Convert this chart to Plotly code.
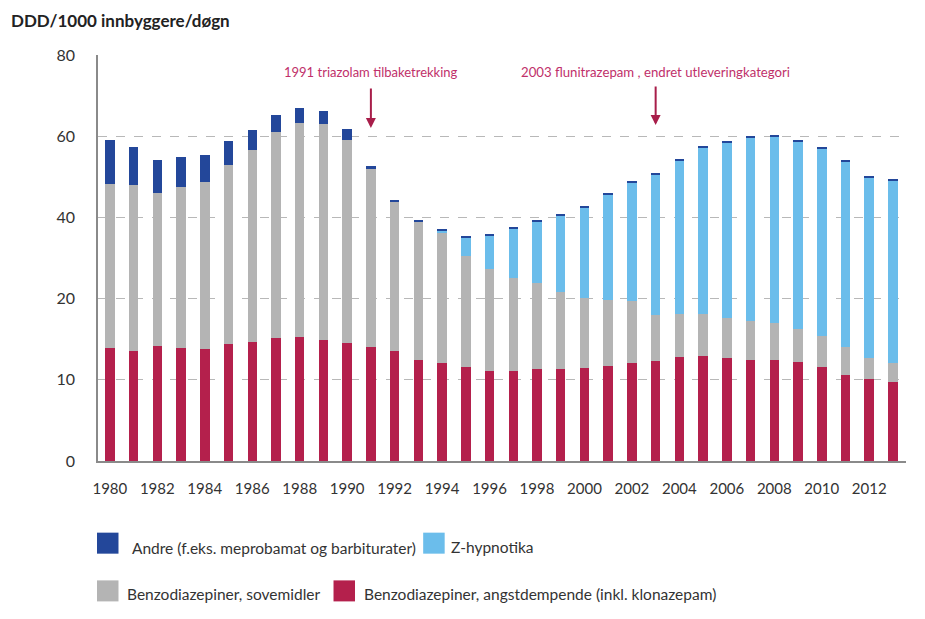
import plotly.graph_objects as go

years = list(range(1980, 2014))

# Values in axis units (axis labelled 0,10,20,40,60,80 at equal spacing)
angstdempende = [22.2, 21.7, 22.6, 22.2, 22.0, 23.0, 23.5, 24.3, 24.4, 23.8, 23.3, 22.5, 21.6, 20.0,
                 19.3, 18.5, 17.8, 17.7, 18.1, 18.2, 18.3, 18.7, 19.3, 19.8, 20.5, 20.6, 20.3, 20.0,
                 20.0, 19.6, 18.5, 17.0, 16.2, 15.5]
sovemidler = [32.4, 32.6, 30.3, 31.8, 33.0, 35.4, 37.8, 40.5, 42.3, 42.7, 39.9, 35.1, 29.5, 27.2,
              25.7, 21.8, 20.0, 18.4, 16.9, 15.1, 13.9, 13.1, 12.2, 8.9, 8.5, 8.4, 7.8, 7.6,
              7.1, 6.4, 6.1, 5.5, 4.1, 3.9]
z_hypnotika = [0, 0, 0, 0, 0, 0, 0, 0, 0, 0, 0, 0, 0, 0,
               0.45, 3.8, 6.6, 9.7, 12.2, 15.0, 17.7, 20.7, 23.3, 27.8, 30.3, 32.7, 34.6, 36.1,
               36.8, 37.0, 36.9, 36.6, 35.5, 35.8]
andre = [8.7, 7.5, 6.5, 6.0, 5.2, 4.6, 4.0, 3.3, 2.8, 2.5, 2.2, 0.5, 0.3, 0.3,
         0.2, 0.2, 0.2, 0.2, 0.2, 0.2, 0.2, 0.2, 0.2, 0.2, 0.2, 0.2, 0.2, 0.2,
         0.2, 0.2, 0.2, 0.2, 0.2, 0.2]

y_tickvals = [0, 16, 32, 48, 64, 80]
y_ticktext = ["0", "10", "20", "40", "60", "80"]
x_tickvals = list(range(1980, 2014, 2))

names = ["Benzodiazepiner, angstdempende (inkl. klonazepam)", "Benzodiazepiner, sovemidler",
         "Z-hypnotika", "Andre (f.eks. meprobamat og barbiturater)"]
colors = ["#B4204C", "#B4B4B4", "#6BBDEB", "#23479A"]
series = [angstdempende, sovemidler, z_hypnotika, andre]

FONT = "Lato"
fig = go.Figure()
for name, col, vals in zip(names, colors, series):
    fig.add_trace(go.Bar(x=years, y=vals, name=name, marker=dict(color=col, line=dict(width=0)),
                         width=0.4, showlegend=False))

OFF = 8  # page body margin
W, H = 925 - OFF, 619 - OFF
L, R, T, B = 97.7 - OFF, 906.0 - OFF, 55.0 - OFF, 460.7 - OFF


def px(x):
    return (x - OFF - L) / (R - L)


def py(y):
    return (B - (y - OFF)) / (B - T)


shapes = []
annotations = []
legend_items = [
    (names[3], colors[3], 96.7, 532.3, 130, 547.5),
    (names[2], colors[2], 423.0, 532.3, 448.5, 546.5),
    (names[1], colors[1], 96.7, 580.0, 125, 593.5),
    (names[0], colors[0], 333.3, 580.0, 362, 593.5),
]
for text, col, sx, sy, tx, ty in legend_items:
    shapes.append(dict(type="rect", xref="paper", yref="paper", x0=px(sx), x1=px(sx + 21.5),
                       y0=py(sy + 21), y1=py(sy), fillcolor=col, line=dict(width=0)))
    annotations.append(dict(xref="paper", yref="paper", x=px(tx), y=py(ty), xanchor="left",
                            yanchor="middle", text=text, showarrow=False,
                            font=dict(family=FONT, size=15.5, color="#333333")))

# Event annotations
ann_color = "#C0306A"
arrow_color = "#A81E4A"
annotations += [
    dict(x=1991, y=76.6, xref="x", yref="y", text="1991 triazolam tilbaketrekking",
         showarrow=False, font=dict(family=FONT, size=13, color=ann_color)),
    dict(x=1991, y=65.6, ax=1991, ay=73.7, xref="x", yref="y", axref="x", ayref="y", text="",
         showarrow=True, arrowhead=2, arrowsize=1, arrowwidth=2, arrowcolor=arrow_color),
    dict(x=2003, y=76.6, xref="x", yref="y", text="2003 flunitrazepam , endret utleveringkategori",
         showarrow=False, font=dict(family=FONT, size=13.2, color=ann_color)),
    dict(x=2003, y=66.2, ax=2003, ay=74.1, xref="x", yref="y", axref="x", ayref="y", text="",
         showarrow=True, arrowhead=2, arrowsize=1, arrowwidth=2, arrowcolor=arrow_color),
    dict(xref="paper", yref="paper", x=px(8.5), y=py(8.5), xanchor="left", yanchor="top",
         text="<b>DDD/1000 innbyggere/døgn</b>", showarrow=False,
         font=dict(family=FONT, size=17, color="#222222")),
]

fig.update_layout(
    width=W, height=H,
    margin=dict(l=L, r=W - R, t=T, b=H - B, pad=0),
    barmode="stack",
    plot_bgcolor="white", paper_bgcolor="white",
    showlegend=False,
    shapes=shapes,
    annotations=annotations,
    font=dict(family=FONT, color="#333333"),
    xaxis=dict(range=[1979.5, 2013.55], tickvals=x_tickvals, ticktext=[str(v) for v in x_tickvals],
               showgrid=False, showline=True, linecolor="#8a8a8a", linewidth=1.5,
               ticks="", tickfont=dict(family=FONT, size=15, color="#333333"),
               ticklabelstandoff=13, zeroline=False),
    yaxis=dict(range=[0, 80], tickvals=y_tickvals, ticktext=y_ticktext,
               showgrid=True, gridcolor="#b8b8b8", griddash="dash", gridwidth=1,
               showline=True, linecolor="#8a8a8a", linewidth=1.5, ticks="",
               tickfont=dict(family=FONT, size=16, color="#333333"),
               ticklabelstandoff=18, zeroline=False),
)

fig.write_html("out.html")
